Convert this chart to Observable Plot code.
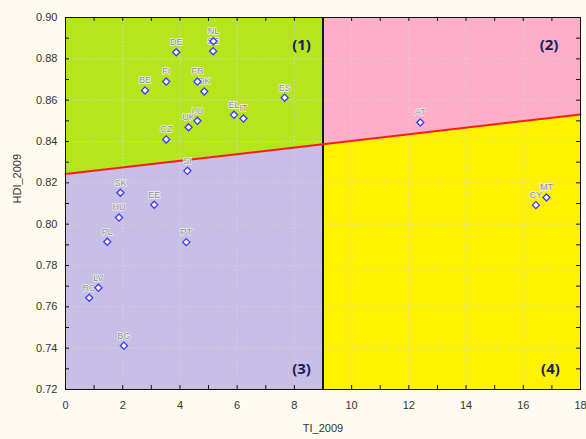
<!DOCTYPE html>
<html>
<head>
<meta charset="utf-8">
<script src="https://cdn.jsdelivr.net/npm/d3@7"></script>
<script src="https://cdn.jsdelivr.net/npm/@observablehq/plot@0.6"></script>
<style>
  html, body { margin: 0; padding: 0; background: #fffbf0; }
  #chart svg { display: block; }
</style>
</head>
<body>
<div id="chart"></div>
<script>
// Countries, TI_2009 (x) and HDI_2009 (y)
const countries = ["NL","SE","DE","BE","FI","FR","DK","ES","EL","IT","LU","UK","CZ","SI","SK","EE","HU","PL","PT","LV","RO","BG","AT","CY","MT"];
const ti2009 = [5.17, 5.16, 3.87, 2.78, 3.52, 4.61, 4.85, 7.66, 5.89, 6.22, 4.61, 4.30, 3.52, 4.26, 1.92, 3.10, 1.87, 1.46, 4.22, 1.15, 0.83, 2.04, 12.40, 16.44, 16.81];
const hdi2009 = [0.8885, 0.8837, 0.8832, 0.8647, 0.8690, 0.8690, 0.8642, 0.8612, 0.8529, 0.8511, 0.8500, 0.8469, 0.8410, 0.8258, 0.8152, 0.8094, 0.8032, 0.7915, 0.7913, 0.7692, 0.7644, 0.7412, 0.8492, 0.8092, 0.8129];

// Red trend line
const trendX = [0, 9, 18];
const trendY = [0.8243, 0.8387, 0.8531];

// Axis domains and ticks
const xDomain = [0, 18];
const yDomain = [0.72, 0.90];
const xTickLabels = [0, 2, 4, 6, 8, 10, 12, 14, 16, 18];
const yTickLabels = [0.72, 0.74, 0.76, 0.78, 0.80, 0.82, 0.84, 0.86, 0.88, 0.90];
const xMinorTicks = d3.range(0, 19, 1);
const yMinorTicks = d3.range(0, 19).map(i => +(0.72 + i * 0.01).toFixed(2));
const xGrid = [2, 4, 6, 8, 10, 12, 14, 16];
const yGrid = [0.74, 0.76, 0.78, 0.80, 0.82, 0.84, 0.86, 0.88];
const xSplit = 9;

// Quadrant labels
const quadLabels = ["(1)", "(2)", "(3)", "(4)"];
const quadX = [8.25, 16.9, 8.25, 16.95];
const quadY = [0.8865, 0.8865, 0.7300, 0.7300];

const points = countries.map((c, i) => ({name: c, x: ti2009[i], y: hdi2009[i]}));
const trend = trendX.map((x, i) => ({x, y: trendY[i]}));
const leftPart = trend.filter(d => d.x <= xSplit);
const rightPart = trend.filter(d => d.x >= xSplit);
const quads = quadLabels.map((t, i) => ({t, x: quadX[i], y: quadY[i]}));

const W = 586, H = 439;
const mL = 65, mR = 6, mT = 17, mB = 50;
const tickLenX = 4 / ((W - mL - mR) / (xDomain[1] - xDomain[0]));
const tickLenY = 4 / ((H - mT - mB) / (yDomain[1] - yDomain[0]));

const font = "'Liberation Sans', Arial, sans-serif";

const chart = Plot.plot({
  width: W,
  height: H,
  marginLeft: mL,
  marginRight: mR,
  marginTop: mT,
  marginBottom: mB,
  style: {background: "#fffbf0", fontFamily: font, fontSize: "11px", color: "#333"},
  x: {domain: xDomain, label: null},
  y: {domain: yDomain, label: null},
  marks: [
    // quadrant backgrounds
    Plot.areaY(leftPart, {x: "x", y1: "y", y2: () => yDomain[1], fill: "#b5e61d"}),
    Plot.areaY(leftPart, {x: "x", y1: () => yDomain[0], y2: "y", fill: "#c8bfe7"}),
    Plot.areaY(rightPart, {x: "x", y1: "y", y2: () => yDomain[1], fill: "#ffaec9"}),
    Plot.areaY(rightPart, {x: "x", y1: () => yDomain[0], y2: "y", fill: "#fff200"}),
    // grid
    Plot.ruleX(xGrid, {x: d => d, stroke: "#d4d4d4", strokeDasharray: "1.5,2", strokeOpacity: 1}),
    Plot.ruleY(yGrid, {y: d => d, stroke: "#d4d4d4", strokeDasharray: "1.5,2", strokeOpacity: 1}),
    // split line
    Plot.ruleX([xSplit], {x: d => d, stroke: "#1a1a1a", strokeWidth: 2}),
    // trend line
    Plot.line(trend, {x: "x", y: "y", stroke: "#ff1a1a", strokeWidth: 2}),
    // frame
    Plot.frame({stroke: "#111", strokeWidth: 1}),
    // inward ticks on all sides
    Plot.ruleX(xMinorTicks, {x: d => d, y1: yDomain[0], y2: yDomain[0] + tickLenY, stroke: "#111"}),
    Plot.ruleX(xMinorTicks, {x: d => d, y1: yDomain[1], y2: yDomain[1] - tickLenY, stroke: "#111"}),
    Plot.ruleY(yMinorTicks, {y: d => d, x1: xDomain[0], x2: xDomain[0] + tickLenX, stroke: "#111"}),
    Plot.ruleY(yMinorTicks, {y: d => d, x1: xDomain[1], x2: xDomain[1] - tickLenX, stroke: "#111"}),
    // tick labels
    Plot.axisX(xTickLabels, {tickSize: 0, tickPadding: 12, fontSize: 11, fill: "#333", label: null}),
    Plot.axisY(yTickLabels, {tickSize: 0, tickPadding: 8, tickFormat: ".2f", fontSize: 11, fill: "#333", label: null}),
    // axis titles
    Plot.text(["TI_2009"], {frameAnchor: "bottom", dy: 42, fontSize: 11, fill: "#333"}),
    Plot.text(["HDI_2009"], {frameAnchor: "left", dx: -48, rotate: -90, fontSize: 11, fill: "#333"}),
    // point labels
    Plot.text(points, {x: "x", y: "y", text: "name", dy: -10, fontSize: 9, fill: "#8e8e8e", stroke: "#f2f2f2", strokeWidth: 1.5, paintOrder: "stroke"}),
    // points
    Plot.dot(points, {x: "x", y: "y", symbol: "diamond2", r: 3.2, fill: "white", stroke: "#3a3aff", strokeWidth: 1.3}),
    // quadrant labels
    Plot.text(quads, {x: "x", y: "y", text: "t", fontSize: 15, fontWeight: "bold", fill: "#1c1c5c", fontFamily: "'Open Sans', 'Liberation Sans', sans-serif"})
  ]
});

document.getElementById("chart").appendChild(chart);
</script>
</body>
</html>
